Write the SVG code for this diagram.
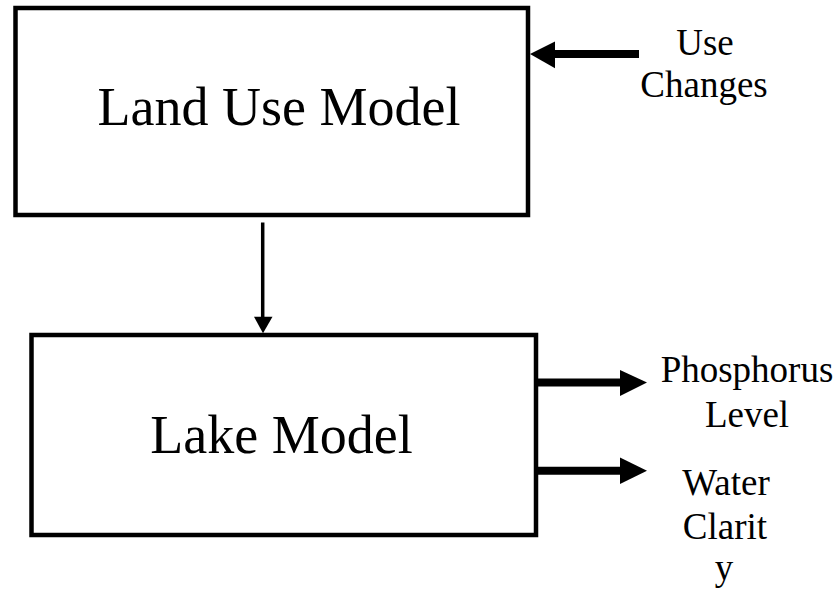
<svg xmlns="http://www.w3.org/2000/svg" width="838" height="594" viewBox="0 0 838 594">
  <style>
    .box { fill: #ffffff; stroke: #000000; stroke-width: 4.5; }
    .big { font-family: "Liberation Serif", "Times New Roman", serif; font-size: 54px; fill: #000000; text-anchor: middle; }
    .lbl { font-family: "Liberation Serif", "Times New Roman", serif; font-size: 37px; fill: #000000; text-anchor: middle; }
    .thick { stroke: #000000; stroke-width: 8; fill: none; }
    .thin { stroke: #000000; stroke-width: 3.5; fill: none; }
    .head { fill: #000000; stroke: none; }
  </style>
  <rect x="0" y="0" width="838" height="594" fill="#ffffff"/>

  <g id="land-use-model">
    <rect class="box" x="15.5" y="8" width="512.5" height="207"/>
    <text class="big" x="279" y="125">Land Use Model</text>
  </g>

  <g id="lake-model">
    <rect class="box" x="31.5" y="335" width="504.5" height="200"/>
    <text class="big" x="281.5" y="453">Lake Model</text>
  </g>

  <g id="use-changes">
    <text class="lbl" x="705" y="55">Use</text>
    <text class="lbl" x="704" y="97">Changes</text>
  </g>

  <g id="phosphorus-level">
    <text class="lbl" x="747" y="382">Phosphorus</text>
    <text class="lbl" x="747" y="427">Level</text>
  </g>

  <g id="water-clarity">
    <text class="lbl" x="726" y="495">Water</text>
    <text class="lbl" x="725" y="539">Clarit</text>
    <text class="lbl" x="724" y="580">y</text>
  </g>

  <g id="connectors">
    <line class="thin" x1="262.7" y1="222.5" x2="262.7" y2="318"/>
    <polygon class="head" points="254,316.7 272.5,316.7 263,333.3"/>

    <line class="thick" x1="553" y1="54" x2="639" y2="54"/>
    <polygon class="head" points="555,41.5 555,68.3 530,54"/>

    <line class="thick" x1="536" y1="382.5" x2="622" y2="382.5"/>
    <polygon class="head" points="620,370 620,396 647,382.5"/>

    <line class="thick" x1="536" y1="470.8" x2="622" y2="470.8"/>
    <polygon class="head" points="620,457.5 620,484 647,470.8"/>
  </g>
</svg>
